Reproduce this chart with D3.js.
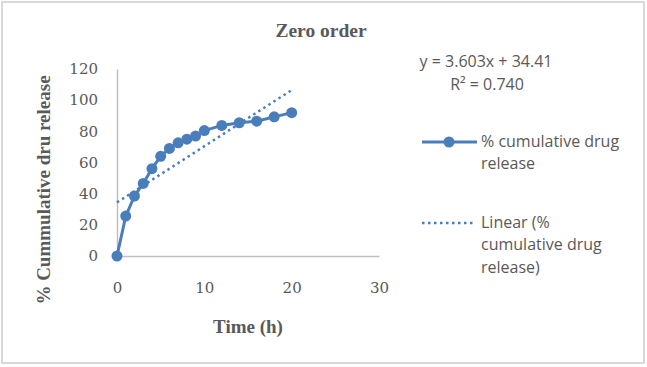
<!DOCTYPE html>
<html><head><meta charset="utf-8">
<script src="https://cdn.jsdelivr.net/npm/d3@7"></script>
<style>body{margin:0;background:#fff}svg{display:block}</style>
</head><body>
<script>
const timeH = [0,1,2,3,4,5,6,7,8,9,10,12,14,16,18,20];
const cumRelease = [0,25.6,38.5,46.6,56,64,69,72.6,75,77,80.5,83.8,85.5,86.5,89.3,92];
const xTicks = [0,10,20,30];
const yTicks = [0,20,40,60,80,100,120];
const slope = 3.603, intercept = 34.41;
const eqText = "y = 3.603x + 34.41";
const r2Text = "R² = 0.740";

const W=647,H=367;
const svg=d3.select("body").append("svg").attr("width",W).attr("height",H);
svg.append("rect").attr("x",2).attr("y",2).attr("width",642).attr("height",361)
  .attr("fill","#fff").attr("stroke","#d9d9d9").attr("stroke-width",2);

const x=d3.scaleLinear().domain([0,30]).range([117,379]);
const y=d3.scaleLinear().domain([0,120]).range([256,69]);
const blue="#4a7ebb", txt="#595959";
const serif="'DejaVu Serif', serif", bserif="'Liberation Serif', serif", sans="'Open Sans', Lato, sans-serif";

// axes
const xa=svg.append("g").attr("transform",`translate(0,${y(0)})`)
  .call(d3.axisBottom(x).tickValues(xTicks).tickSize(0).tickPadding(26));
const ya=svg.append("g").attr("transform",`translate(${x(0)},0)`)
  .call(d3.axisLeft(y).tickValues(yTicks).tickSize(0).tickPadding(19));
[xa,ya].forEach(a=>{a.select(".domain").attr("stroke","#bfbfbf").attr("stroke-width",1.5);
  a.selectAll("text").attr("font-family",serif).attr("font-size",15).attr("fill",txt);});

// trendline
svg.append("line").attr("x1",x(0)).attr("y1",y(intercept)).attr("x2",x(20)).attr("y2",y(slope*20+intercept))
  .attr("stroke",blue).attr("stroke-width",2.5).attr("stroke-dasharray","2.5,3.5");

// series
svg.append("path").datum(timeH.map((t,i)=>[t,cumRelease[i]]))
  .attr("d",d3.line().x(d=>x(d[0])).y(d=>y(d[1])))
  .attr("fill","none").attr("stroke",blue).attr("stroke-width",3);
svg.selectAll("circle.pt").data(timeH).join("circle").attr("class","pt")
  .attr("cx",d=>x(d)).attr("cy",(d,i)=>y(cumRelease[i])).attr("r",5.5).attr("fill",blue);

// title & labels
svg.append("text").attr("x",321).attr("y",37).attr("text-anchor","middle")
  .attr("font-family",bserif).attr("font-weight","bold").attr("font-size",19.5).attr("fill",txt).text("Zero order");
svg.append("text").attr("x",248).attr("y",333).attr("text-anchor","middle")
  .attr("font-family",bserif).attr("font-weight","bold").attr("font-size",19).attr("fill",txt).text("Time (h)");
svg.append("text").attr("transform","translate(50,190) rotate(-90)").attr("text-anchor","middle")
  .attr("font-family",bserif).attr("font-weight","bold").attr("font-size",19).attr("fill",txt).text("% Cummulative dru release");

// equation
svg.append("text").attr("x",486).attr("y",67).attr("text-anchor","middle")
  .attr("font-family",sans).attr("font-size",16).attr("fill",txt).text(eqText);
svg.append("text").attr("x",487).attr("y",90).attr("text-anchor","middle")
  .attr("font-family",sans).attr("font-size",16).attr("fill",txt).text(r2Text);

// legend
svg.append("line").attr("x1",422).attr("x2",477).attr("y1",142).attr("y2",142).attr("stroke",blue).attr("stroke-width",3);
svg.append("circle").attr("cx",449).attr("cy",142).attr("r",5.5).attr("fill",blue);
svg.append("line").attr("x1",422).attr("x2",474).attr("y1",223).attr("y2",223).attr("stroke",blue).attr("stroke-width",2.5).attr("stroke-dasharray","2.5,3.5");
const leg=[["% cumulative drug",142],["release",164],["Linear (%",223],["cumulative drug",245],["release)",268]];
svg.selectAll("text.leg").data(leg).join("text").attr("class","leg")
  .attr("x",481).attr("y",d=>d[1]+5).attr("font-family",sans).attr("font-size",16).attr("fill",txt).text(d=>d[0]);
</script>
</body></html>
